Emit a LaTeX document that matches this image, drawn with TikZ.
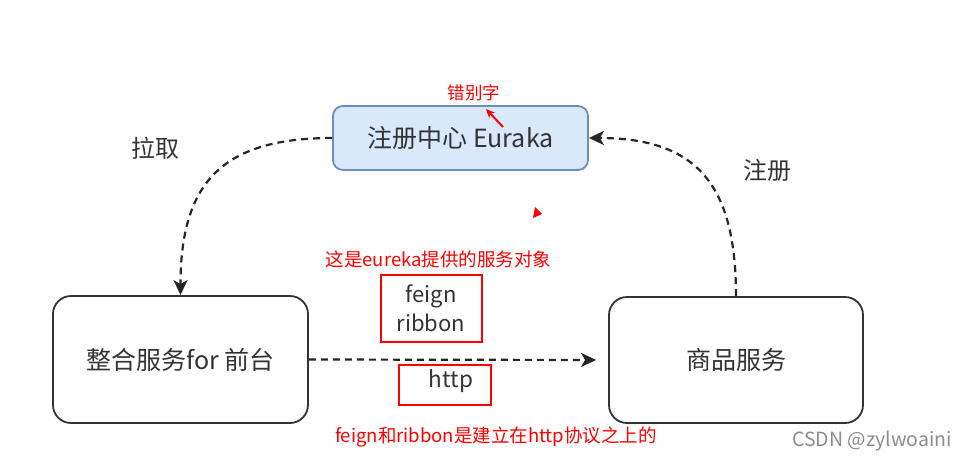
\documentclass[tikz,border=0pt]{standalone}
\usepackage{fontspec}
\setmainfont{Noto Sans CJK SC}
\usetikzlibrary{arrows.meta,positioning}
\definecolor{txtgray}{HTML}{333333}
\definecolor{regfill}{HTML}{DAE8FC}
\definecolor{regdraw}{HTML}{6C8EBF}
\definecolor{notered}{HTML}{FF0000}

\begin{document}
\begin{tikzpicture}[
    x=1pt,y=-1pt,
    box/.style={draw=black!80,fill=white,rounded corners=18pt,line width=1.8pt,
      align=center,minimum width=255pt,minimum height=127pt,text=txtgray,
      font=\fontsize{25}{30}\selectfont},
    regbox/.style={box,draw=regdraw,fill=regfill,rounded corners=10pt,minimum height=64pt},
    arrow/.style={-{Stealth[length=15pt,width=14pt,inset=4pt]},draw=black!85,
      line width=2.2pt,dash pattern=on 7pt off 5pt},
    lbl/.style={text=txtgray,font=\fontsize{24}{29}\selectfont},
    note/.style={text=notered,font=\fontsize{18.5}{22}\selectfont},
    redbox/.style={draw=notered,line width=2.6pt},
    libtext/.style={text=txtgray,font=\fontsize{22}{29}\selectfont,align=center}
  ]
    \useasboundingbox (0,0) rectangle (965,463);
    \node[regbox] (eureka) at (460.5,138) {注册中心 Euraka};
    \node[box] (front) at (180.5,359.5) {整合服务for 前台};
    \node[box,minimum width=254pt,minimum height=126pt] (goods) at (736,360) {商品服务};
    \node[lbl] (pull) at (155,148) {拉取};
    \node[lbl] (reg) at (767,170) {注册};
    \draw[arrow] (eureka.west) to[out=180,in=90,looseness=1.3] (front.north);
    \draw[arrow] (goods.north) to[out=90,in=0,looseness=1.3] (eureka.east);
    \draw[arrow,shorten >=12pt] (front.east) -- (goods.west);
    % red remarks
    \node[note,font=\fontsize{17.5}{21}\selectfont] (typo) at (474,93) {错别字};
    \coordinate (typoend) at (503,127);
    \coordinate (typotip) at (486,109);
    \draw[-{Stealth[length=9pt,width=8pt]},notered,line width=2pt] (typoend) -- (typotip);
    \fill[notered] (535,207) -- (542,214) -- (533,218) -- cycle;
    \node[note] (obj) at (438.5,259) {这是eureka提供的服务对象};
    \draw[redbox] (381,275) rectangle (482,342);
    \node[libtext] (lib) at (431,308) {feign\\ribbon};
    \draw[redbox] (399,365) rectangle (491,405);
    \node[lbl,font=\fontsize{22.5}{27}\selectfont] (http) at (451,381) {http};
    \node[note] (base) at (496,437) {feign和ribbon是建立在http协议之上的};
    \node[text=black!45,font=\fontsize{19.5}{23}\selectfont] (wmark) at (872,441) {CSDN @zylwoaini};
  \end{tikzpicture}
\end{document}
